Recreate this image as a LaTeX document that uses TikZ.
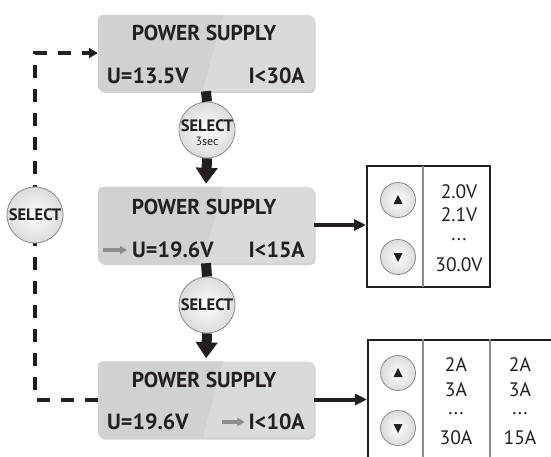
\documentclass[tikz,border=0pt]{standalone}
\usepackage{fontspec}
\setmainfont{PT Sans}
\usetikzlibrary{arrows.meta,shadows,calc}
\definecolor{txt}{HTML}{231F20}
\definecolor{boxL}{HTML}{D0D1D3}
\definecolor{boxR}{HTML}{D9DADC}
\definecolor{selgray}{HTML}{8A8A8A}
\definecolor{ptrgray}{HTML}{8C8C8C}
\tikzset{
  psbox/.style={rounded corners=5pt, minimum width=216pt, minimum height=76pt, inner sep=0pt, fill=boxR,
    drop shadow={shadow xshift=1.5pt, shadow yshift=-2pt, fill=black, opacity=0.18}},
  pstitle/.style={font=\bfseries\fontsize{21.5}{23}\selectfont, text=txt, inner sep=0pt},
  psval/.style={font=\bfseries\fontsize{22}{24}\selectfont, text=txt, inner sep=0pt},
  selbtn/.style={circle, draw=selgray, line width=0.8pt, minimum size=56pt, inner sep=0pt,
    inner color=white, outer color=black!14, align=center, text=txt},
  seltxt/.style={font=\bfseries\fontsize{16.5}{17}\selectfont, text=txt, inner sep=0pt},
  secTxt/.style={font=\fontsize{12}{13}\selectfont, text=txt, inner sep=0pt},
  arrbtn/.style={circle, draw=selgray, line width=0.8pt, minimum size=35pt, inner sep=0pt,
    inner color=white, outer color=black!14},
  tabbox/.style={draw=txt, line width=2pt, inner sep=0pt},
  tabtxt/.style={font=\fontsize{19.5}{21}\selectfont, text=txt, inner sep=0pt},
  thickconn/.style={line width=10pt, draw=txt},
  thickarr/.style={line width=10pt, draw=txt, -{Triangle[width=21pt,length=16pt]}},
  sidearr/.style={line width=4pt, draw=txt, -{Triangle[width=11pt,length=12pt]}},
  dashconn/.style={line width=4pt, draw=txt, dash pattern=on 13pt off 11pt, -{Triangle[width=10pt,length=9pt]}},
  ptr/.style={line width=3.5pt, draw=ptrgray, -{Triangle[width=8pt,length=7pt]}},
  tri/.style={fill=txt, draw=none}
}
\begin{document}
\begin{tikzpicture}[x=1pt,y=-1pt]
\useasboundingbox (0,0) rectangle (551,457);

% boxes
\node[psbox] (box1) at (206,53) {};
\node[psbox] (box2) at (206,225) {};
\node[psbox] (box3) at (206,399.5) {};
\foreach \b in {box1,box2,box3}{
  \begin{scope}
    \clip[rounded corners=5pt] (\b.north west) rectangle (\b.south east);
    \fill[boxL] (\b.north west) -- ($(\b.north west)+(125,0)$) -- ($(\b.south west)+(105,0)$) -- (\b.south west) -- cycle;
  \end{scope}
}

% box texts
\node[pstitle] (t1) at (204,33) {POWER SUPPLY};
\node[psval, anchor=base west] (u1) at (107,84) {U=13.5V};
\node[psval, anchor=base east] (i1) at (305,84) {I<30A};

\node[pstitle] (t2) at (204,207) {POWER SUPPLY};
\node[psval, anchor=base west] (u2) at (132,257) {U=19.6V};
\node[psval, anchor=base east] (i2) at (305,257) {I<15A};
\coordinate (p2s) at (103,250);
\draw[ptr] (p2s) -- ($(u2.west |- p2s)+(-5,0)$);

\node[pstitle] (t3) at (204,380) {POWER SUPPLY};
\node[psval, anchor=base west] (u3) at (107,429) {U=19.6V};
\node[psval, anchor=base east] (i3) at (305,429) {I<10A};
\coordinate (p3s) at (222,422);
\draw[ptr] (p3s) -- ($(i3.west |- p3s)+(-4,0)$);

% select buttons
\node[selbtn] (sel1) at (207,130) {};
\draw[thickconn] (box1.south) -- (sel1.north);
\draw[thickarr, shorten >=3pt] (sel1.south) -- (box2.north);
\node[seltxt] (sel1a) at (207,126) {SELECT};
\node[secTxt] (sel1b) at (207,141) {3sec};

\node[selbtn] (sel2) at (207,305) {};
\draw[thickconn] (box2.south) -- (sel2.north);
\draw[thickarr, shorten >=3pt] (sel2.south) -- (box3.north);
\node[seltxt] (sel2a) at (sel2) {SELECT};

% dashed loop
\coordinate (sel0c) at (35,215);
\draw[dashconn] (box3.west) -| (sel0c) |- (box1.west);
\node[selbtn] (sel0) at (sel0c) {};
\node[seltxt] (sel0a) at (sel0) {SELECT};

% table 1
\node[tabbox, minimum width=123pt, minimum height=121pt] (tab1) at (428.5,226.5) {};
\draw[selgray, line width=1.5pt] (423,166) -- (423,287);
\node[arrbtn] (up1) at (398,200) {};
\node[arrbtn] (dn1) at (398,257) {};
\fill[tri] ($(up1)+(0,-5)$) -- ($(up1)+(4.5,4)$) -- ($(up1)+(-4.5,4)$) -- cycle;
\fill[tri] ($(dn1)+(0,5)$) -- ($(dn1)+(4.5,-4)$) -- ($(dn1)+(-4.5,-4)$) -- cycle;
\node[tabtxt] (v1) at (459,192) {2.0V};
\node[tabtxt] (v2) at (459,215) {2.1V};
\node[tabtxt] (v3) at (459,240) {...};
\node[tabtxt] (v4) at (459,265) {30.0V};
\draw[sidearr] (box2.east) -- (tab1.west |- box2.east);

% table 2
\node[tabbox, minimum width=200pt, minimum height=130pt, anchor=north west] (tab2) at (367,339) {};
\draw[selgray, line width=1.5pt] (423,339) -- (423,470);
\draw[selgray, line width=1.5pt] (490,339) -- (490,470);
\node[arrbtn] (up2) at (398,373) {};
\node[arrbtn] (dn2) at (398,428) {};
\fill[tri] ($(up2)+(0,-5)$) -- ($(up2)+(4.5,4)$) -- ($(up2)+(-4.5,4)$) -- cycle;
\fill[tri] ($(dn2)+(0,5)$) -- ($(dn2)+(4.5,-4)$) -- ($(dn2)+(-4.5,-4)$) -- cycle;
\node[tabtxt] (a1) at (456,365) {2A};
\node[tabtxt] (a2) at (456,390) {3A};
\node[tabtxt] (a3) at (456,414) {...};
\node[tabtxt] (a4) at (456,438) {30A};
\node[tabtxt] (b1) at (520,365) {2A};
\node[tabtxt] (b2) at (520,390) {3A};
\node[tabtxt] (b3) at (520,414) {...};
\node[tabtxt] (b4) at (520,438) {15A};
\draw[sidearr] (box3.east) -- (tab2.west |- box3.east);
\end{tikzpicture}
\end{document}
